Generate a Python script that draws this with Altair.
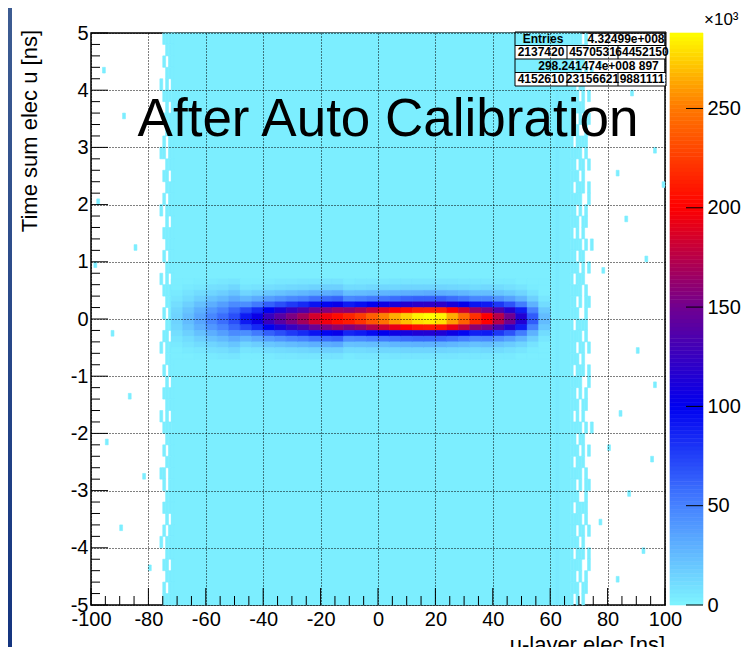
import altair as alt
import pandas as pd

# ---------------- data (counts in units of 10^3) ----------------
blob_x = [-70, -66, -62, -58, -54, -50, -46, -42, -38, -34, -30, -26, -22, -18, -14, -10,
          -6, -2, 2, 6, 10, 14, 18, 22, 26, 30, 34, 38, 42, 46, 50, 54, 58]
blob_y = [0.65, 0.55, 0.45, 0.35, 0.25, 0.15, 0.05, -0.05, -0.15, -0.25, -0.35, -0.45, -0.55, -0.65]
blob_counts = [
    [3, 3, 5, 7, 10, 13, 15, 15, 13, 10, 7, 5, 3, 3],
    [3, 5, 8, 11, 16, 21, 25, 25, 21, 16, 11, 8, 5, 3],
    [4, 6, 11, 16, 23, 30, 35, 35, 30, 23, 16, 11, 6, 4],
    [5, 9, 14, 22, 31, 41, 48, 48, 41, 31, 22, 14, 9, 5],
    [6, 10, 17, 26, 38, 49, 58, 58, 49, 38, 26, 17, 10, 6],
    [7, 13, 21, 32, 46, 60, 70, 70, 60, 46, 32, 21, 13, 7],
    [4, 7, 14, 27, 45, 72, 90, 90, 72, 45, 27, 14, 7, 4],
    [4, 8, 17, 32, 53, 84, 105, 105, 84, 53, 32, 17, 8, 4],
    [5, 10, 20, 38, 63, 100, 125, 125, 100, 63, 38, 20, 10, 5],
    [6, 11, 22, 42, 70, 112, 140, 140, 112, 70, 42, 22, 11, 6],
    [6, 12, 25, 47, 78, 124, 155, 155, 124, 78, 47, 25, 12, 6],
    [7, 13, 27, 50, 84, 134, 168, 168, 134, 84, 50, 27, 13, 7],
    [7, 15, 30, 56, 93, 148, 185, 185, 148, 93, 56, 30, 15, 7],
    [8, 16, 31, 59, 98, 156, 195, 195, 156, 98, 59, 31, 16, 8],
    [8, 16, 33, 62, 103, 164, 205, 205, 164, 103, 62, 33, 16, 8],
    [5, 11, 24, 47, 90, 161, 215, 211, 157, 86, 45, 22, 11, 5],
    [6, 11, 25, 50, 95, 169, 225, 221, 164, 90, 47, 23, 11, 6],
    [6, 12, 26, 53, 101, 180, 240, 235, 175, 96, 50, 24, 12, 6],
    [6, 13, 28, 55, 106, 189, 252, 247, 184, 101, 53, 25, 13, 6],
    [7, 13, 29, 58, 111, 199, 265, 260, 193, 106, 56, 27, 13, 7],
    [7, 14, 30, 61, 116, 206, 275, 270, 201, 110, 58, 28, 14, 7],
    [7, 14, 31, 63, 120, 214, 285, 279, 208, 114, 60, 29, 14, 7],
    [7, 14, 32, 63, 121, 216, 288, 282, 210, 115, 60, 29, 14, 7],
    [7, 14, 31, 63, 120, 214, 285, 279, 208, 114, 60, 29, 14, 7],
    [7, 13, 29, 58, 111, 199, 265, 260, 193, 106, 56, 27, 13, 7],
    [6, 12, 27, 54, 103, 184, 245, 240, 179, 98, 51, 25, 12, 6],
    [6, 11, 24, 48, 92, 165, 220, 216, 161, 88, 46, 22, 11, 6],
    [6, 12, 24, 48, 90, 154, 200, 200, 154, 90, 48, 24, 12, 6],
    [5, 11, 21, 42, 79, 135, 175, 175, 135, 79, 42, 21, 11, 5],
    [5, 9, 18, 36, 68, 116, 150, 150, 116, 68, 36, 18, 9, 5],
    [3, 7, 14, 28, 52, 89, 115, 115, 89, 52, 28, 14, 7, 3],
    [3, 4, 8, 16, 29, 50, 65, 65, 50, 29, 16, 8, 4, 3],
    [3, 3, 3, 6, 11, 19, 25, 25, 19, 11, 6, 3, 3, 3],
]

# low-count plateau (solid part) and its ragged edges
plateau_x = [-72, 67]
plateau_level = 3
stripe_x = [62, 63]
stripe_level = 5
left_edge_cells = [-77, -76, -75, -74, -73, -72]
right_edge_cells = [67, 68, 69, 70, 71, 72, 73, 74]
left_pattern = [
    "..####", "...###", "..#.##", "...###", ".#.#.#", "..###.", "...#.#", "..####", "...###", "..#.##",
    ".##.##", "...###", "..##.#", "...###", "..#.##", ".#.###", "...#.#", "..####", "...###", "..#.##",
    "...###", ".#.#.#", "..####", "...###", "..#.##", "...###", "..##.#", ".#.###", "...###", "..#.##",
    "...#.#", "..####", "...###", ".#.#.#", "..###.", "...###", "..#.##", "...###", ".##.##", "..#.##",
    "...###", "..####", "...#.#", "..#.##", ".#.###", "...###", "..##.#", "...###", "..#.##", "..####",
]
right_pattern = [
    "####.#..", "###.##..", "#.###...", "####.#.#", "##.##...", "###.#.#.", "#####...", "##.#.##.", "###..#..", "#.####..",
    "####.#..", "##.##.#.", "###.#...", "#.###.#.", "####..#.", "##.#.#..", "###.##..", "#.#.#...", "####.#.#", "##.##...",
    "###.#.#.", "#.###...", "####.#..", "##.#.##.", "###..#..", "#.####..", "####.#..", "##.##.#.", "###.#...", "#.###.#.",
    "####..#.", "##.#.#..", "###.##..", "#.#.#...", "####.#.#", "##.##...", "###.#.#.", "#.###...", "####.#..", "##.#.##.",
    "###..#..", "#.####..", "####.#..", "##.##.#.", "###.#...", "#.###.#.", "####..#.", "##.#.#..", "###.##..", "#.#.#...",
]
speck_x = [77, 80, 88, 96, 83, 99, 86, 93, 78, 90, 96, 84, 80, 95, 87, 77, 92, 83,
           -96, -89, -98, -85, -99, -93, -87, -95, -82, -90, -80]
speck_y = [4.4, 4.2, 3.9, 2.9, 2.5, 2.3, 1.7, 1.0, 0.8, -0.6, -1.2, -1.7, -2.3, -2.5, -3.1, -3.6, -4.1, -4.6,
           4.3, 3.5, 2.0, 1.2, 0.9, -0.3, -1.4, -2.2, -2.8, -3.7, -4.4]

x_major = [-100, -80, -60, -40, -20, 0, 20, 40, 60, 80, 100]
x_minor = [v for v in range(-100, 101, 5) if v % 20 != 0]
y_major = [-5, -4, -3, -2, -1, 0, 1, 2, 3, 4, 5]
y_minor = [round(-5 + 0.2 * i, 1) for i in range(51) if i % 5 != 0]
z_ticks = [0, 50, 100, 150, 200, 250]
z_max = 288

palette_stops = [0, 50, 100, 150, 200, 250, 288]
palette_colors = ["#7ff5ff", "#4682ff", "#0000f0", "#700090", "#ff0000", "#ff7800", "#ffff00"]

stats_rows = [
    ["Entries", "4.32499e+008"],
    ["2137420", "4570531", "64452150"],
    ["298.241474e+008  897"],
    ["4152610", "23156621", "9881111"],
]

title_text = "After Auto Calibration"
x_title = "u-layer elec [ns]"
y_title = "Time sum elec u [ns]"

# ---------------- build tables ----------------
cells = []
cells.append(dict(x=plateau_x[0], x2=plateau_x[1], y=-5, y2=5, v=plateau_level))
for i, (lp, rp) in enumerate(zip(left_pattern, right_pattern)):
    top = 5 - 0.2 * i
    bot = top - 0.2
    for j, ch in enumerate(lp):
        if ch == "#":
            cells.append(dict(x=left_edge_cells[j], x2=left_edge_cells[j] + 1, y=bot, y2=top, v=plateau_level))
    for j, ch in enumerate(rp):
        if ch == "#":
            cells.append(dict(x=right_edge_cells[j], x2=right_edge_cells[j] + 1, y=bot, y2=top, v=plateau_level))
cells.append(dict(x=stripe_x[0], x2=stripe_x[1], y=-5, y2=5, v=stripe_level))
for sx, sy in zip(speck_x, speck_y):
    cells.append(dict(x=sx, x2=sx + 1, y=sy, y2=sy + 0.1, v=plateau_level))
for xc, col in zip(blob_x, blob_counts):
    for yc, v in zip(blob_y, col):
        cells.append(dict(x=xc - 2, x2=xc + 2, y=yc - 0.05, y2=yc + 0.05, v=v))
cells_df = pd.DataFrame(cells)

W, H = 574, 572
FONT = "Liberation Sans"
X0, X1, Y0, Y1 = -100, 100, -5, 5


def px2x(px):
    return X0 + px / W * (X1 - X0)


def py2y(py):
    return Y1 - py / H * (Y1 - Y0)


xs = alt.Scale(domain=[X0, X1], nice=False, zero=False)
ys = alt.Scale(domain=[Y0, Y1], nice=False, zero=False)
cs = alt.Scale(domain=palette_stops, range=palette_colors, interpolate="rgb", clamp=True)
zs = alt.Scale(domain=[0, z_max], nice=False, zero=True)

LBL = "'' + datum.value"
x_axis = alt.Axis(values=x_major, grid=True, gridColor="black", gridDash=[1, 2], gridWidth=1, gridOpacity=1,
                  ticks=False, tickSize=0, domain=False, labelFontSize=20, labelFont=FONT, labelColor="black",
                  labelPadding=4, labelFlush=False, labelOverlap=False, labelBound=False, title=None, zindex=1,
                  labelExpr=LBL)
y_axis = alt.Axis(values=y_major, grid=True, gridColor="black", gridDash=[1, 2], gridWidth=1, gridOpacity=1,
                  ticks=False, tickSize=0, domain=False, labelFontSize=20, labelFont=FONT, labelColor="black",
                  labelPadding=3, labelFlush=False, labelOverlap=False, labelBound=False, title=None, zindex=1,
                  labelExpr=LBL)
cb_axis = alt.Axis(orient="right", offset=38, values=z_ticks, ticks=False, tickSize=0, domain=False, grid=False,
                   labelFontSize=20, labelFont=FONT, labelColor="black", labelPadding=4, labelFlush=False,
                   labelOverlap=False, labelBound=False, title=None, labelExpr=LBL)


def X(field):
    return alt.X(field, scale=xs, axis=x_axis)


def Y(field):
    return alt.Y(field, scale=ys, axis=y_axis)


strip = alt.Chart(pd.DataFrame({"a": [0]})).mark_rect(
    color=alt.LinearGradient(gradient="linear", x1=0, y1=0, x2=0, y2=1,
                             stops=[alt.GradientStop(color="#3d5c92", offset=0),
                                    alt.GradientStop(color="#14347f", offset=1)])
).encode(x=alt.value(-83), x2=alt.value(-79), y=alt.value(-25), y2=alt.value(620))

heat = alt.Chart(cells_df).mark_rect(strokeWidth=0.6).encode(
    x=X("x:Q"), x2="x2:Q", y=Y("y:Q"), y2="y2:Q",
    color=alt.Color("v:Q", scale=cs, legend=None),
    stroke=alt.Stroke("v:Q", scale=cs, legend=None),
)


def xticks(vals, length):
    return alt.Chart(pd.DataFrame({"t": vals})).mark_rule(color="black", strokeWidth=1).encode(
        x=X("t:Q"), y=alt.value(H), y2=alt.value(H - length))


def yticks(vals, length):
    return alt.Chart(pd.DataFrame({"t": vals})).mark_rule(color="black", strokeWidth=1).encode(
        y=Y("t:Q"), x=alt.value(0), x2=alt.value(length))


# stats box (laid out in pixels, converted to the axis units)
bx0, bx1 = 424, 575
row_edges = [-1, 12.5, 26, 39.5, 53]
col_seps = [476, 527]
box_fill, box_lines, box_text = [], [], []
for r, row in enumerate(stats_rows):
    y0, y1 = row_edges[r], row_edges[r + 1]
    yc = (y0 + y1) / 2
    if len(row) == 3:
        box_fill.append(dict(a=px2x(bx0), a2=px2x(bx1), b=py2y(y0), b2=py2y(y1)))
        for c in col_seps:
            box_lines.append(dict(a=px2x(c), a2=px2x(c), b=py2y(y0), b2=py2y(y1)))
        centers = [(bx0 + col_seps[0]) / 2, (col_seps[0] + col_seps[1]) / 2, (col_seps[1] + bx1) / 2]
        for c, t in zip(centers, row):
            box_text.append(dict(a=px2x(c), b=py2y(yc), t=t))
    elif len(row) == 2:
        box_text.append(dict(a=px2x(452), b=py2y(yc), t=row[0]))
        box_text.append(dict(a=px2x(535), b=py2y(yc), t=row[1]))
    else:
        box_text.append(dict(a=px2x((bx0 + bx1) / 2 + 8), b=py2y(yc), t=row[0]))
    box_lines.append(dict(a=px2x(bx0), a2=px2x(bx1), b=py2y(y1), b2=py2y(y1)))
box_lines.append(dict(a=px2x(bx0), a2=px2x(bx1), b=py2y(row_edges[0]), b2=py2y(row_edges[0])))
box_lines.append(dict(a=px2x(bx0), a2=px2x(bx0), b=py2y(row_edges[0]), b2=py2y(row_edges[-1])))
box_lines.append(dict(a=px2x(bx1), a2=px2x(bx1), b=py2y(row_edges[0]), b2=py2y(row_edges[-1])))

box_fill_l = alt.Chart(pd.DataFrame(box_fill)).mark_rect(color="white").encode(
    x=X("a:Q"), x2="a2:Q", y=Y("b:Q"), y2="b2:Q")
box_lines_l = alt.Chart(pd.DataFrame(box_lines)).mark_rule(color="black", strokeWidth=1).encode(
    x=X("a:Q"), x2="a2:Q", y=Y("b:Q"), y2="b2:Q")
box_text_l = alt.Chart(pd.DataFrame(box_text)).mark_text(
    font=FONT, fontSize=12, fontWeight="bold", color="black", align="center", baseline="middle").encode(
    x=X("a:Q"), y=Y("b:Q"), text="t:N")

title_l = alt.Chart(pd.DataFrame({"t": [title_text]})).mark_text(
    font=FONT, fontSize=53, color="black", align="center", baseline="alphabetic").encode(
    x=alt.value(297), y=alt.value(103), text="t:N")
ytitle_l = alt.Chart(pd.DataFrame({"t": [y_title]})).mark_text(
    font=FONT, fontSize=22, color="black", align="right", baseline="alphabetic", angle=270).encode(
    x=alt.value(-54), y=alt.value(-3), text="t:N")
xtitle_l = alt.Chart(pd.DataFrame({"t": [x_title]})).mark_text(
    font=FONT, fontSize=22, color="black", align="right", baseline="alphabetic").encode(
    x=alt.value(W), y=alt.value(619), text="t:N")

main = alt.layer(strip, heat, xticks(x_major, 17), xticks(x_minor, 9), yticks(y_major, 17), yticks(y_minor, 9),
                 box_fill_l, box_lines_l, box_text_l, title_l, ytitle_l, xtitle_l)

# colour bar
cb_df = pd.DataFrame({"lo": list(range(0, z_max, 2))})
cb_df["hi"] = cb_df["lo"] + 2
cb_df["mid"] = cb_df["lo"] + 1
cbar = alt.Chart(cb_df).mark_rect(strokeWidth=0.6).encode(
    x=alt.value(579), x2=alt.value(612),
    y=alt.Y("lo:Q", scale=zs, axis=cb_axis), y2="hi:Q",
    color=alt.Color("mid:Q", scale=cs, legend=None),
    stroke=alt.Stroke("mid:Q", scale=cs, legend=None),
)
cb_ticks = alt.Chart(pd.DataFrame({"t": z_ticks})).mark_rule(color="black", strokeWidth=1).encode(
    y=alt.Y("t:Q", scale=zs, axis=cb_axis), x=alt.value(595), x2=alt.value(612))
cb_unit = alt.Chart(pd.DataFrame({"t": ["×10³"]})).mark_text(
    font=FONT, fontSize=17, color="black", align="left", baseline="alphabetic").encode(
    x=alt.value(613), y=alt.value(-8), text="t:N")
cb = alt.layer(cbar, cb_ticks)

chart = alt.layer(main, cb, cb_unit).resolve_scale(y="independent").properties(
    width=W, height=H,
    padding={"left": 83, "top": 25, "right": 78, "bottom": 42},
    autosize=alt.AutoSizeParams(type="none"),
).configure(background="white").configure_view(stroke="black", strokeWidth=1.5)

chart.save("out.html", embed_options={"renderer": "svg", "actions": False})
